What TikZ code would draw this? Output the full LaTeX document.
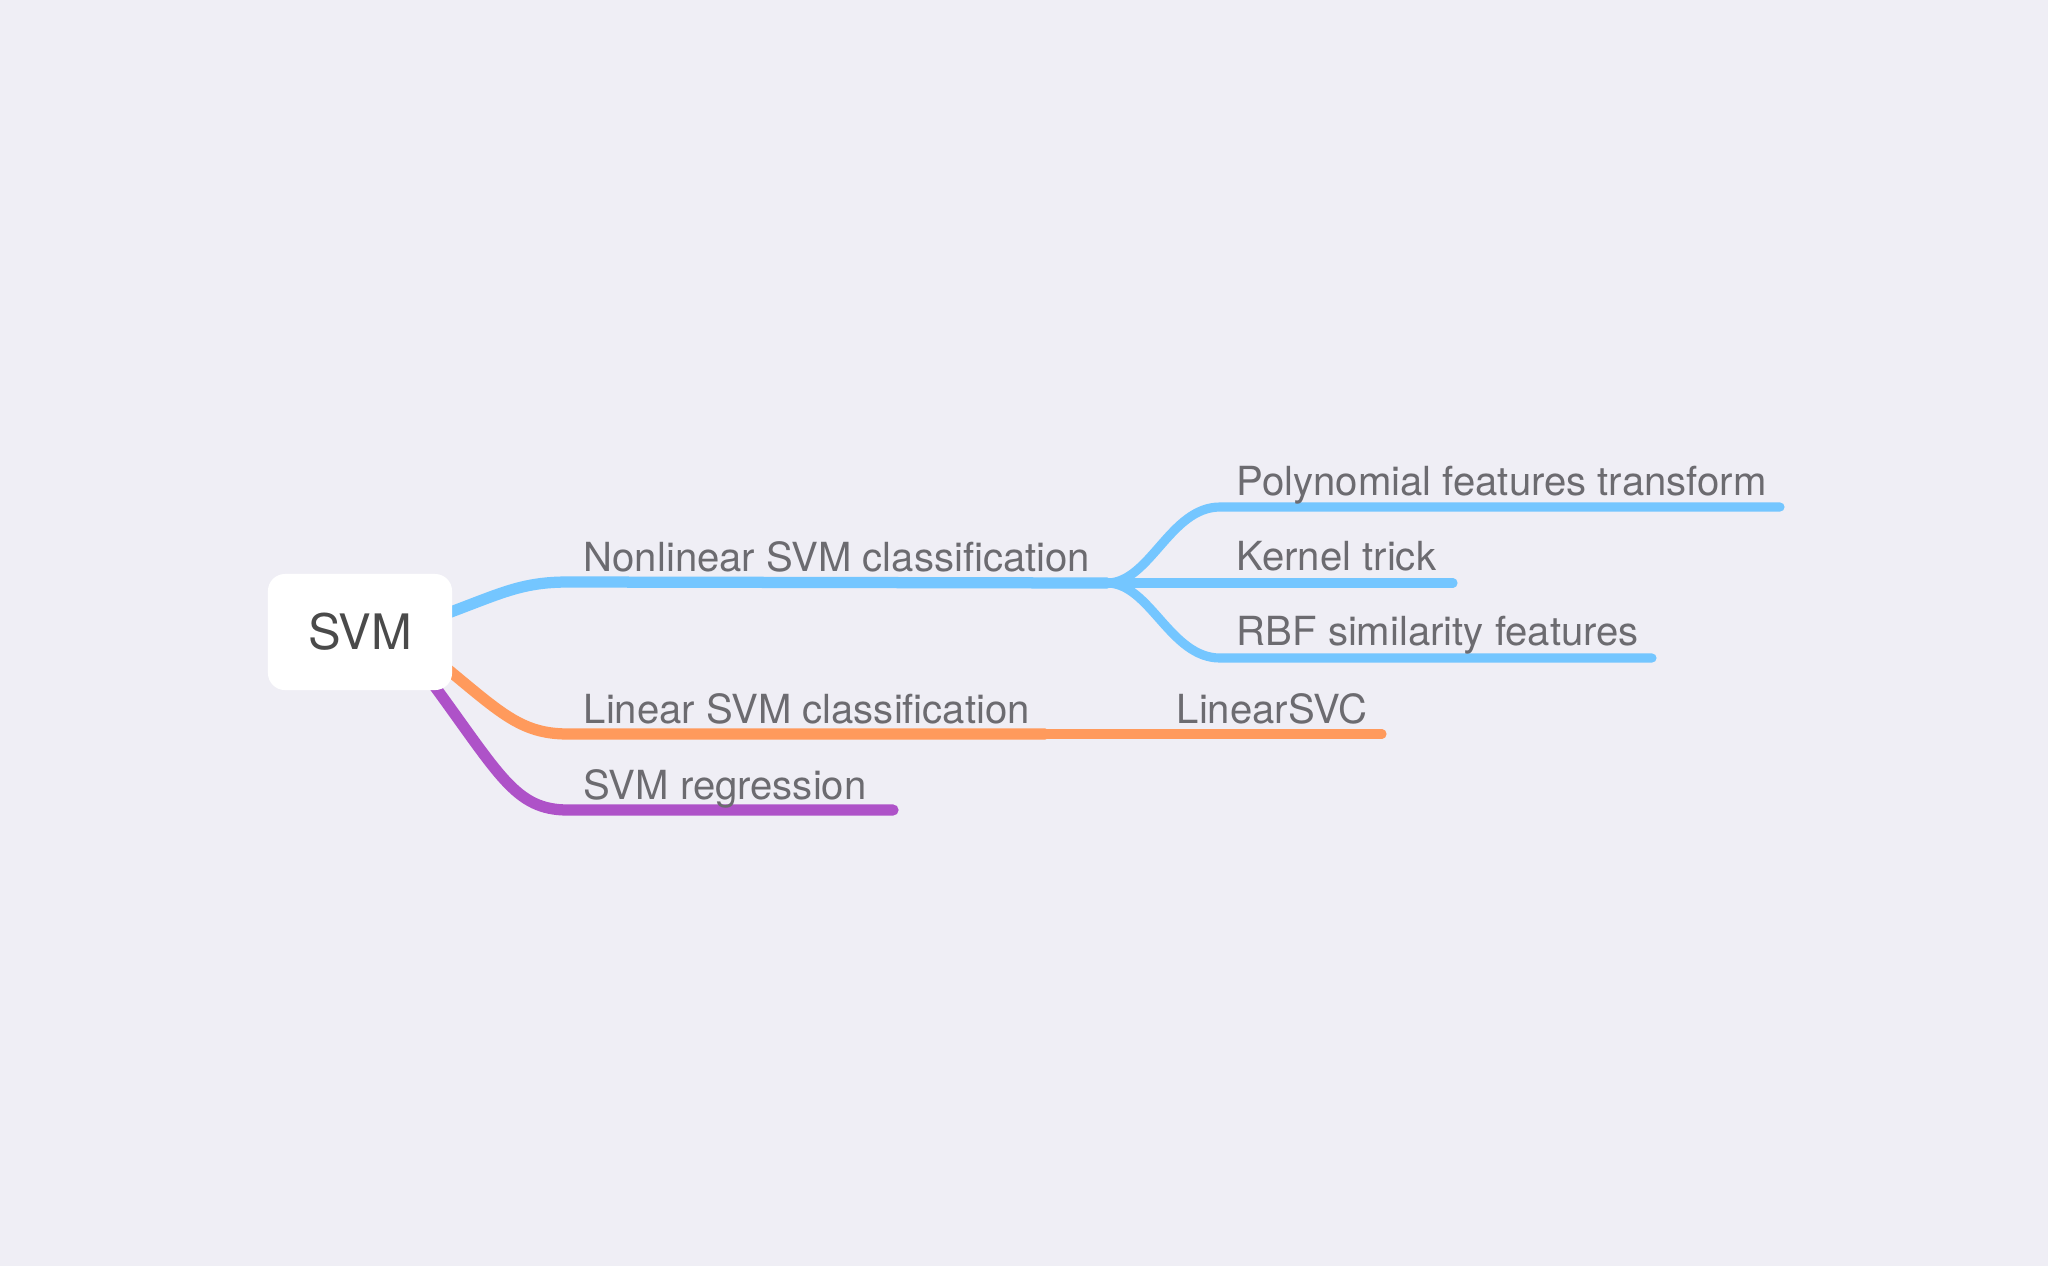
\documentclass[tikz,border=0pt]{standalone}
\usepackage{fontspec}
\setmainfont{TeX Gyre Heros}
\usetikzlibrary{positioning,backgrounds}
\definecolor{bgcol}{HTML}{EFEEF5}
\definecolor{nlblue}{HTML}{74C6FF}
\definecolor{linorange}{HTML}{FF9A5C}
\definecolor{regpurple}{HTML}{AE52C8}
\definecolor{labgray}{HTML}{6C6B70}
\definecolor{rootgray}{HTML}{4A4A4A}
\tikzset{
  rootbox/.style = { fill=white, rounded corners=0.17cm, minimum width=1.84cm,
    minimum height=1.16cm, inner sep=0pt, text=rootgray,
    font=\fontsize{13.9}{16}\selectfont },
  lbl/.style  = { anchor=base west, inner sep=0pt, text=labgray,
    font=\fontsize{11.4}{13}\selectfont },
  mainbr/.style = { line width=3.2pt, line cap=round },
  subbr/.style  = { line width=2.6pt, line cap=round }
}
\begin{document}
\begin{tikzpicture}[x=0.01cm, y=-0.01cm]
  \fill[bgcol] (0,0) rectangle (2048,1266);
  \useasboundingbox (0,0) rectangle (2048,1266);
  % root and branch points
  \coordinate (c0) at (360,632);
  \coordinate (nl0) at (568,582);
  \coordinate (nl1) at (1107,583);
  \coordinate (li0) at (568,734);
  \coordinate (li1) at (1045,734);
  \coordinate (rg0) at (568,810);
  \coordinate (rg1) at (893,810);
  \coordinate (po0) at (1220,507);
  \coordinate (po1) at (1780,507);
  \coordinate (ke1) at (1453,583);
  \coordinate (rb0) at (1220,658);
  \coordinate (rb1) at (1652,658);
  \coordinate (ls1) at (1382,734);
  % main branches
  \draw[mainbr, nlblue] (c0) -- (440,616) .. controls (500,594) and (520,582) .. (nl0) -- (nl1);
  \draw[mainbr, linorange] (c0) -- (440,663) .. controls (500,712) and (520,734) .. (li0) -- (li1);
  \draw[mainbr, regpurple] (c0) -- (430,680) .. controls (500,775) and (515,810) .. (rg0) -- (rg1);
  % sub branches
  \draw[subbr, nlblue] (nl1) .. controls (1150,583) and (1170,507) .. (po0) -- (po1);
  \draw[subbr, nlblue] (nl1) -- (ke1);
  \draw[subbr, nlblue] (nl1) .. controls (1150,583) and (1170,658) .. (rb0) -- (rb1);
  \draw[subbr, linorange] (li1) -- (ls1);
  % nodes
  \node[rootbox] (svm) at (c0) {SVM};
  \node[lbl] (nonlin) at (583,571) {Nonlinear SVM classification};
  \node[lbl] (linear) at (583,723) {Linear SVM classification};
  \node[lbl] (regr) at (583,799) {SVM regression};
  \node[lbl] (poly) at (1236,495) {Polynomial features transform};
  \node[lbl] (kernel) at (1236,570) {Kernel trick};
  \node[lbl] (rbf) at (1236,645) {RBF similarity features};
  \node[lbl] (lsvc) at (1176,723) {LinearSVC};
\end{tikzpicture}
\end{document}
